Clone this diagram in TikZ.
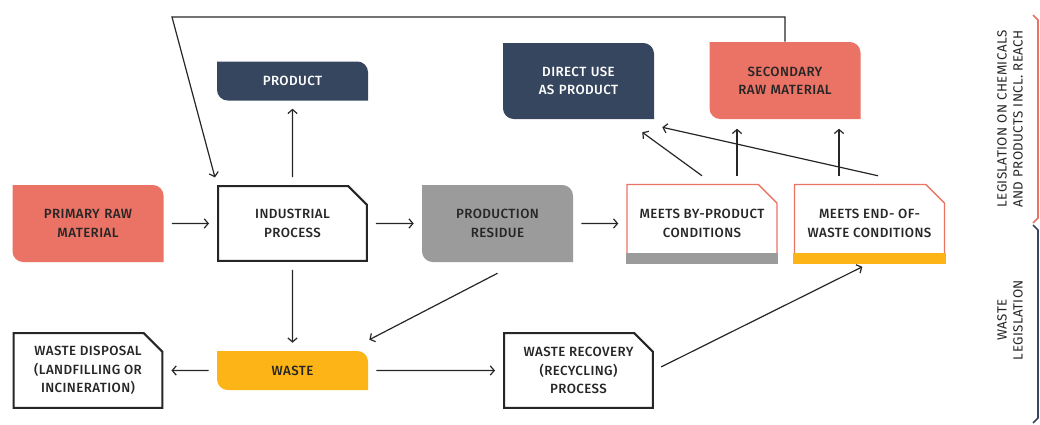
\documentclass[tikz,border=0pt]{standalone}
\usepackage{fontspec}
\setmainfont{Fira Sans}[LetterSpace=3]
\newfontfamily\boxfont{Fira Sans Medium}[LetterSpace=3]
\usetikzlibrary{shapes.misc, arrows.meta, calc, positioning}
\definecolor{salmon}{RGB}{234,115,101}
\definecolor{navy}{RGB}{55,70,95}
\definecolor{midgray}{RGB}{155,155,155}
\definecolor{amber}{RGB}{252,180,22}
\definecolor{ink}{RGB}{38,38,38}

\begin{document}
\begin{tikzpicture}[x=0.75pt, y=-0.75pt,
  tag/.style={fill=white, inner sep=0pt, minimum width=113.25pt, text width=105pt, align=center,
    font=\boxfont\fontsize{10}{13.8}\selectfont, text=ink,
    path picture={\fill[#1] (path picture bounding box.south east)
      -- ([xshift=8pt]path picture bounding box.south west)
      arc[start angle=270, end angle=180, radius=8pt]
      -- (path picture bounding box.north west)
      -- ([xshift=-8pt]path picture bounding box.north east)
      arc[start angle=90, end angle=0, radius=8pt] -- cycle;}},
  tall/.style={minimum height=57.75pt},
  flat/.style={minimum height=29.25pt},
  procbox/.style={chamfered rectangle, chamfered rectangle corners=north east,
    chamfered rectangle xsep=7pt, chamfered rectangle ysep=7pt, draw=ink, line width=1.6pt,
    inner sep=0pt, minimum width=111.6pt, minimum height=56pt, align=center,
    font=\boxfont\fontsize{10}{13.8}\selectfont, text=ink},
  testbox/.style={procbox, draw=salmon, line width=1.1pt, minimum width=112.5pt, minimum height=58.5pt},
  flow/.style={draw=ink, line width=0.9pt, -{Straight Barb[length=3pt, width=7pt]}, shorten <=6pt, shorten >=6pt},
  link/.style={flow, shorten <=0pt, shorten >=0pt},
  side/.style={rotate=90, align=center, font=\fontsize{10}{12}\selectfont, text=ink}
]
  \useasboundingbox (0,0) rectangle (1040,425);

  % top row
  \node[tag=navy, flat, text=white] (prod) at (292.5,81) {PRODUCT};
  \node[tag=navy, text=white, minimum height=57pt] (direct) at (578.5,81) {DIRECT USE\\AS PRODUCT};
  \node[tag=salmon, tall] (sec) at (785,80.5) {SECONDARY\\RAW MATERIAL};

  % middle row
  \node[tag=salmon, tall] (prim) at (88,223.5) {PRIMARY RAW\\MATERIAL};
  \node[procbox] (ind) at (292.5,223.5) {INDUSTRIAL\\PROCESS};
  \node[tag=midgray, tall] (res) at (497.5,223.5) {PRODUCTION\\RESIDUE};
  \node[testbox] (bp) at (702,223.5) {MEETS BY-PRODUCT\\CONDITIONS};
  \node[testbox] (eow) at (869.5,223.5) {MEETS END- OF-\\WASTE CONDITIONS};
  \foreach \n/\c in {bp/midgray, eow/amber}
    \fill[\c] ([shift={(-0.55pt,-0.55pt)}]\n.south west) rectangle ([shift={(0.55pt,7.5pt)}]\n.south east);

  % bottom row
  \node[procbox] (disp) at (88,370.5) {WASTE DISPOSAL\\(LANDFILLING OR\\INCINERATION)};
  \node[tag=amber, flat] (waste) at (292.5,370.5) {WASTE};
  \node[procbox] (rec) at (578.5,370.5) {WASTE RECOVERY\\(RECYCLING)\\PROCESS};

  % flows
  \draw[flow] (prim) -- (ind);
  \draw[flow] (ind) -- (res);
  \draw[flow] (res) -- (bp);
  \draw[flow] (ind) -- (prod);
  \draw[flow] (ind) -- (waste);
  \draw[flow] (waste) -- (disp);
  \draw[flow] (waste) -- (rec);
  \draw[flow] (rec.east) -- (eow.south);
  \draw[link] ($(res.south)+(0,11)$) -- ($(waste.north east)+(1,-11)$);
  \draw[link] ($(bp.north)+(0,-8)$) -- ($(direct.south east)+(-12,13)$);
  \draw[link] ($(bp.north)+(35,-8)$) -- ($(bp.north)+(35,-55)$);
  \draw[link] ($(eow.north)+(-30.5,-8)$) -- ($(eow.north)+(-30.5,-55)$);
  \draw[link] ($(eow.north)+(8.5,-8)$) -- ($(direct.south east)+(8,8)$);

  % loop back to the process
  \coordinate (bend) at (172,17);
  \draw[flow, shorten <=0pt] (sec.north) |- (bend) -- (ind.north west);

  % legislation brackets
  \draw[salmon, line width=1.2pt] (1033,15) -- (1038,20) -- (1038,218) -- (1033,223);
  \draw[navy, line width=1.2pt] (1033,225) -- (1038,230) -- (1038,418) -- (1033,423);
  \node[side] (chemlaw) at (1010,119) {LEGISLATION ON CHEMICALS\\AND PRODUCTS INCL. REACH};
  \node[side] (wastelaw) at (1010,320) {WASTE\\LEGISLATION};
\end{tikzpicture}
\end{document}
